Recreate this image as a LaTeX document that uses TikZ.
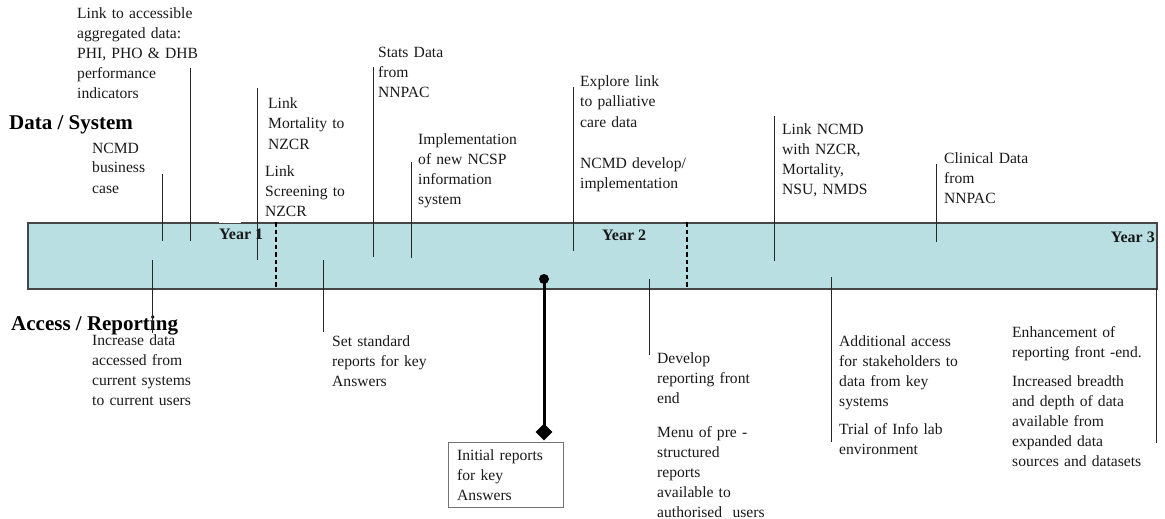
\documentclass[tikz,border=0pt]{standalone}
\usepackage{fontspec}
\setmainfont{Liberation Serif}
\usetikzlibrary{shapes.geometric}
\definecolor{barfill}{RGB}{186,223,227}
\definecolor{barline}{RGB}{70,70,70}
\definecolor{ink}{RGB}{25,25,25}
\begin{document}
\begin{tikzpicture}[x=1pt,y=-1pt,
  note/.style={anchor=base west,inner sep=0pt,text width=200pt,align=left,
    text=ink,font=\fontsize{15.6}{20}\selectfont},
  head/.style={anchor=base west,inner sep=0pt,text=black,
    font=\fontsize{21}{24}\selectfont\bfseries},
  yearlbl/.style={inner sep=0pt,text=ink,font=\fontsize{16}{20}\selectfont\bfseries},
  tick/.style={draw=black!85,line width=1pt},
  yearsep/.style={draw=black,line width=2.2pt,dash pattern=on 4.5pt off 3pt},
  ]
\useasboundingbox (0,0) rectangle (1165,519);

% timeline bar
\node[draw=barline,line width=1.5pt,fill=barfill,anchor=north west,inner sep=0pt,
  minimum width=1129pt,minimum height=66pt] (bar) at (27,222) {};
\fill[white] (219,221.2) rectangle (241,222.8);

% year separators
\coordinate (sepAt) at (276,222); \coordinate (sepAb) at (276,288);
\coordinate (sepBt) at (687,222); \coordinate (sepBb) at (687,288);
\draw[yearsep] (sepAt) -- (sepAb);
\draw[yearsep] (sepBt) -- (sepBb);

% year labels
\node[yearlbl,anchor=base west] (y1) at (219,239) {Year 1};
\node[yearlbl,anchor=base west] (y2) at (602,240) {Year 2};
\node[yearlbl,anchor=base east] (y3) at (1155,242) {Year 3};

% row headings
\node[head] (hdata) at (9,129) {Data / System};
\node[head] (hacc) at (11,330) {Access / Reporting};

% milestone ticks
\foreach \nm/\x/\ya/\yb in {
  t1/162/174/241, t2/190/68/241, t3/257/88/260, t4/373/67/257,
  t5/411/162/258, t6/573/87/251, t7/774/116/261, t8/936/164/242,
  b1/152/260/333, b2/323/260/332, b3/649/279/355, b4/831/277/442,
  b5/1156/288/443}{
  \coordinate (\nm top) at (\x,\ya);
  \coordinate (\nm bot) at (\x,\yb);
  \draw[tick] (\nm top) -- (\nm bot);
}

% data / system items
\node[note] (n1) at (77,19) {Link to accessible\\aggregated data:\\PHI, PHO \& DHB\\performance\\indicators};
\node[note] (n2) at (92,153) {NCMD\\business\\case};
\node[note] (n3) at (268,109) {Link\\Mortality to\\NZCR};
\node[note] (n4) at (265,176) {Link\\Screening to\\NZCR};
\node[note] (n5) at (378,58) {Stats Data\\from\\NNPAC};
\node[note] (n6) at (418,144) {Implementation\\of new NCSP\\information\\system};
\node[note] (n7) at (580,87) {Explore link\\to palliative\\care data};
\node[note] (n8) at (580,168) {NCMD develop/\\implementation};
\node[note] (n9) at (782,134) {Link NCMD\\with NZCR,\\Mortality,\\NSU, NMDS};
\node[note] (n10) at (944,163) {Clinical Data\\from\\NNPAC};

% access / reporting items
\node[note] (r1) at (92,345) {Increase data\\accessed from\\current systems\\to current users};
\node[note] (r2) at (332,346) {Set standard\\reports for key\\Answers};
\node[note] (r3) at (657,363) {Develop\\reporting front\\end};
\node[note] (r4) at (657,437) {Menu of pre -\\structured\\reports\\available to\\authorised~~users};
\node[note] (r5) at (839,346) {Additional access\\for stakeholders to\\data from key\\systems};
\node[note] (r6) at (839,434) {Trial of Info lab\\environment};
\node[note] (r7) at (1012,337) {Enhancement of\\reporting front -end.};
\node[note] (r8) at (1012,386) {Increased breadth\\and depth of data\\available from\\expanded data\\sources and datasets};

% key milestone with callout box
\node[draw=black!55,line width=0.8pt,anchor=north west,inner sep=0pt,
  minimum width=115pt,minimum height=65pt] (initbox) at (448,442) {};
\node[note] (init) at (457,460) {Initial reports\\for key\\Answers};
\node[circle,fill=black,inner sep=0pt,minimum size=10pt] (ms) at (544,279) {};
\node[diamond,fill=black,inner sep=0pt,minimum size=17pt] (msd) at (544,432) {};
\draw[black,line width=3pt] (ms.center) -- (msd.center);
\end{tikzpicture}
\end{document}
